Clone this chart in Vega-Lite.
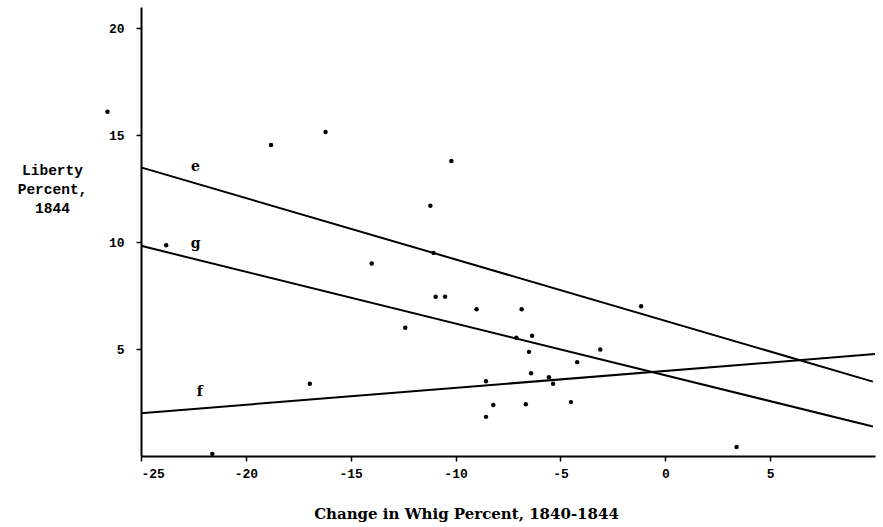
{
  "$schema": "https://vega.github.io/schema/vega-lite/v6.json",
  "width": 734,
  "height": 449,
  "autosize": {"type": "none"},
  "padding": {"left": 141, "top": 7, "right": 8, "bottom": 71},
  "background": "white",
  "config": {
    "view": {"stroke": null},
    "axis": {"grid": false, "domainColor": "black", "tickColor": "black", "labelColor": "black", "titleColor": "black", "domainWidth": 2, "tickWidth": 1.5}
  },
  "datasets": {
    "points": [
      {"x": -26.6, "y": 16.1},
      {"x": -23.8, "y": 9.86},
      {"x": -18.8, "y": 14.55},
      {"x": -16.2, "y": 15.15},
      {"x": -10.2, "y": 13.8},
      {"x": -11.2, "y": 11.7},
      {"x": -11.05, "y": 9.5},
      {"x": -14.0, "y": 9.0},
      {"x": -12.4, "y": 6.0},
      {"x": -10.95, "y": 7.45},
      {"x": -10.5, "y": 7.45},
      {"x": -9.0, "y": 6.86},
      {"x": -6.85, "y": 6.86},
      {"x": -7.1, "y": 5.53},
      {"x": -6.35, "y": 5.62},
      {"x": -6.5, "y": 4.87},
      {"x": -3.1, "y": 4.98},
      {"x": -4.2, "y": 4.39},
      {"x": -1.15, "y": 7.0},
      {"x": -16.95, "y": 3.38},
      {"x": -8.55, "y": 3.5},
      {"x": -6.4, "y": 3.87},
      {"x": -5.55, "y": 3.68},
      {"x": -5.35, "y": 3.38},
      {"x": -8.2, "y": 2.39},
      {"x": -8.55, "y": 1.83},
      {"x": -6.65, "y": 2.42},
      {"x": -4.5, "y": 2.52},
      {"x": -21.6, "y": 0.1},
      {"x": 3.4, "y": 0.42}
    ],
    "lines": [
      {"line": "e", "x": -25, "y": 13.5},
      {"line": "e", "x": 9.9, "y": 3.48},
      {"line": "g", "x": -25, "y": 9.83},
      {"line": "g", "x": 9.9, "y": 1.38},
      {"line": "f", "x": -25, "y": 2.0},
      {"line": "f", "x": 10, "y": 4.77}
    ],
    "labels": [
      {"label": "e", "x": -22.4, "y": 13.5},
      {"label": "g", "x": -22.4, "y": 9.9},
      {"label": "f", "x": -22.2, "y": 3.0}
    ]
  },
  "layer": [
    {
      "data": {"name": "points"},
      "mark": {"type": "point", "filled": true, "shape": "circle", "size": 20, "color": "black", "opacity": 1},
      "encoding": {
        "x": {
          "field": "x", "type": "quantitative",
          "scale": {"domain": [-25, 10], "nice": false, "zero": false},
          "axis": {
            "values": [-25, -20, -15, -10, -5, 0, 5],
            "labelExpr": "(datum.value < 0 ? '-' : '') + abs(datum.value)",
            "tickSize": 5,
            "labelPadding": 6,
            "labelFont": "Liberation Mono",
            "labelFontWeight": "bold",
            "labelFontSize": 13,
            "title": "Change in Whig Percent, 1840-1844",
            "titleFont": "DejaVu Serif",
            "titleFontWeight": "bold",
            "titleFontSize": 15,
            "titleX": 325,
            "titleY": 57,
            "titleAlign": "center",
            "titleBaseline": "middle"
          }
        },
        "y": {
          "field": "y", "type": "quantitative",
          "scale": {"domain": [0, 21], "nice": false, "zero": false},
          "axis": {
            "values": [5, 10, 15, 20],
            "tickSize": 5,
            "labelPadding": 12,
            "labelFont": "Liberation Mono",
            "labelFontWeight": "bold",
            "labelFontSize": 13,
            "title": ["Liberty", "Percent,", "1844"],
            "titleFont": "Liberation Mono",
            "titleFontWeight": "bold",
            "titleFontSize": 14.5,
            "titleAngle": 0,
            "titleX": -89,
            "titleY": 156,
            "titleAlign": "center",
            "titleBaseline": "top",
            "titleLineHeight": 19
          }
        }
      }
    },
    {
      "data": {"name": "lines"},
      "mark": {"type": "line", "color": "black", "strokeWidth": 2},
      "encoding": {
        "x": {"field": "x", "type": "quantitative"},
        "y": {"field": "y", "type": "quantitative"},
        "detail": {"field": "line"}
      }
    },
    {
      "data": {"name": "labels"},
      "mark": {"type": "text", "font": "DejaVu Serif", "fontWeight": "bold", "fontSize": 14, "color": "black"},
      "encoding": {
        "x": {"field": "x", "type": "quantitative"},
        "y": {"field": "y", "type": "quantitative"},
        "text": {"field": "label"}
      }
    }
  ]
}
